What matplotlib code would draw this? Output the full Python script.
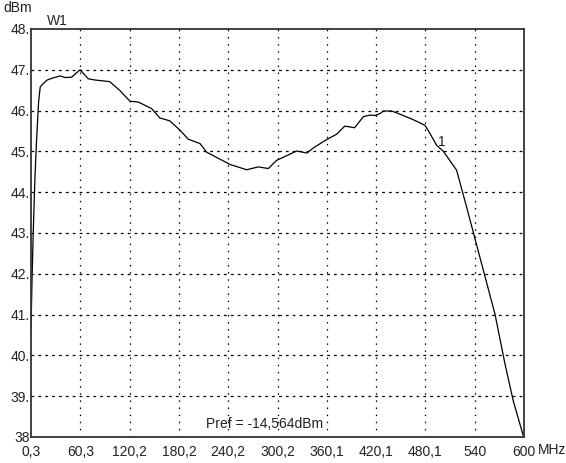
import matplotlib
matplotlib.use("Agg")
from matplotlib import pyplot as plt

# 频率 (MHz) 与功率 (dBm)
freq = [0.3, 1.0, 1.6, 3.0, 5.0, 7.0, 9.5, 11.5, 14.5, 20.0, 27.0, 35.6, 42.0, 49.8,
        59.9, 70.0, 78.0, 96.0, 108.0, 120.7, 130.8, 147.0, 157.0, 169.0, 181.5,
        191.5, 206.0, 214.0, 242.4, 262.7, 276.8, 289.0, 299.0, 323.5, 336.0,
        344.0, 360.0, 372.0, 382.0, 394.0, 404.5, 412.6, 419.0, 425.0, 428.9,
        439.0, 447.0, 465.0, 479.5, 485.6, 493.7, 502.0, 518.0, 530.0, 546.3,
        564.7, 576.9, 587.0, 600.0]
power = [40.65, 41.3, 41.9, 43.0, 44.3, 45.25, 46.2, 46.58, 46.65, 46.75, 46.8, 46.85,
         46.81, 46.82, 47.0, 46.78, 46.75, 46.71, 46.5, 46.23, 46.21, 46.05, 45.82,
         45.75, 45.52, 45.3, 45.19, 44.98, 44.68, 44.55, 44.62, 44.58, 44.78, 45.01,
         44.96, 45.09, 45.29, 45.42, 45.62, 45.58, 45.85, 45.89, 45.88, 45.93, 45.99,
         45.99, 45.93, 45.78, 45.64, 45.44, 45.15, 45.0, 44.54, 43.65, 42.41, 41.01,
         39.79, 38.88, 37.97]

x_ticks = [0.3, 60.3, 120.2, 180.2, 240.2, 300.2, 360.1, 420.1, 480.1, 540, 600]
x_labels = ["0,3", "60,3", "120,2", "180,2", "240,2", "300,2", "360,1", "420,1",
            "480,1", "540", "600"]
y_ticks = [38, 39, 40, 41, 42, 43, 44, 45, 46, 47, 48]
y_labels = ["38", "39.", "40.", "41.", "42.", "43.", "44.", "45.", "46.", "47.", "48."]

plt.rcParams['font.family'] = ['Liberation Sans', 'DejaVu Sans']

fig = plt.figure(figsize=(5.66, 4.63), dpi=100)
ax = fig.add_axes([31 / 566, 1 - 437 / 463, 493 / 566, 408 / 463])

ax.plot(freq, power, color='black', linewidth=0.9)

ax.set_xlim(0.3, 600)
ax.set_ylim(38, 48)
ax.set_xticks(x_ticks)
ax.set_xticklabels(x_labels)
ax.set_yticks(y_ticks)
ax.set_yticklabels(y_labels)
ax.tick_params(length=0, labelsize=10, colors='#222222')
ax.tick_params(axis='y', pad=1)
ax.tick_params(axis='x', pad=6)

# 网格：横线为短划线，竖线为点线
for y in y_ticks[1:-1]:
    ax.axhline(y, color='black', linewidth=0.9, linestyle=(0, (2.2, 3.3)))
for x in x_ticks[1:-1]:
    ax.axvline(x, color='black', linewidth=0.9, linestyle=(0, (1.2, 4.5)))

for s in ax.spines.values():
    s.set_linewidth(1.3)
    s.set_color('#333333')

fig.text(3 / 566, 1 - 8 / 463, "dBm", fontsize=10, va='center', ha='left', color='#222222')
fig.text(57 / 566, 1 - 21 / 463, "W1", fontsize=10, va='center', ha='center', color='#222222')
fig.text(538 / 566, 1 - 450 / 463, "MHz", fontsize=10, va='center', ha='left', color='#222222')

ax.text(285, 38.32, "Pref = -14,564dBm", fontsize=10, ha='center', va='center', color='#222222')
ax.text(500, 45.22, "1", fontsize=10, ha='center', va='center', color='#222222')

fig.savefig("out.png", dpi=100)
